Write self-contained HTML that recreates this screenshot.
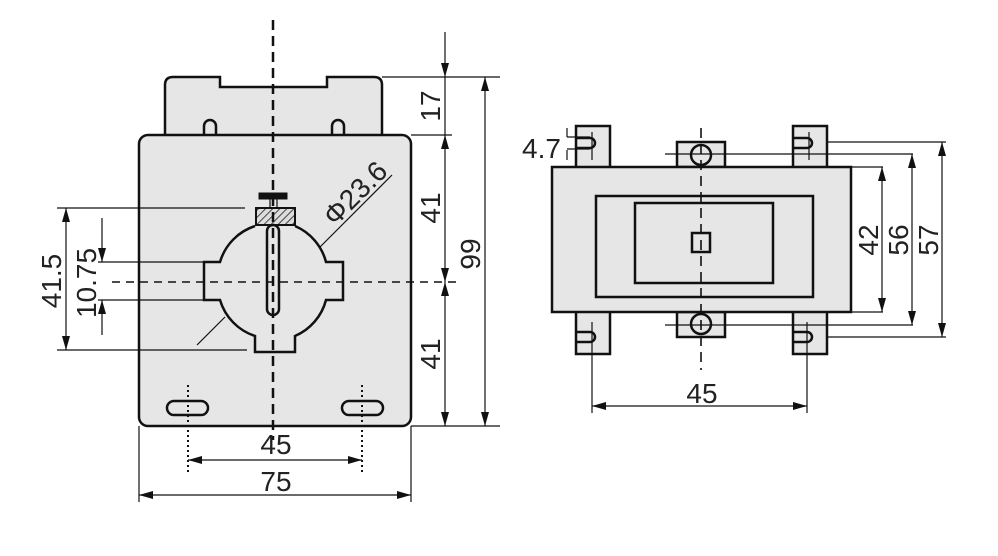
<!DOCTYPE html>
<html><head><meta charset="utf-8"><style>body{margin:0;background:#fff}svg{display:block}text{font-family:"Liberation Sans",sans-serif;fill:#222}</style></head><body>
<svg width="998" height="556" viewBox="0 0 998 556" xmlns="http://www.w3.org/2000/svg">
<defs>
<marker id="a" viewBox="0 0 14 10" refX="14" refY="5" markerWidth="14" markerHeight="10" orient="auto-start-reverse" markerUnits="userSpaceOnUse"><path d="M0,1 L14,5 L0,9 Z" fill="#111"/></marker>
<pattern id="h" width="5" height="5" patternUnits="userSpaceOnUse" patternTransform="rotate(45)"><rect width="5" height="5" fill="#ddd"/><line x1="0" y1="0" x2="0" y2="5" stroke="#111" stroke-width="1.5"/></pattern>
</defs>
<g stroke="#111" fill="none" stroke-width="1.2">
<path d="M165,135 V85 Q165,77 173,77 H220 V87 H327 V77 H374 Q382,77 382,85 V135" fill="#e6e6e6" stroke-width="2.5"/>
<path d="M204,135 V126 a6,6 0 0 1 12,0 V135 M332,135 V126 a6,6 0 0 1 12,0 V135" stroke-width="2.5" fill="#e6e6e6"/>
<rect x="139" y="135" width="272" height="291" rx="9" fill="#e6e6e6" stroke-width="2.5"/>
<path d="M255,226 A54,54 0 0 0 220,262 H204 V300 H220 A54,54 0 0 0 255,336 V352 H295 V336 A54,54 0 0 0 326,300 H343 V262 H326 A54,54 0 0 0 295,226" fill="#e6e6e6" stroke-width="2.5"/>
<rect x="256" y="208" width="39" height="17" fill="url(#h)" stroke-width="2"/>
<rect x="259" y="193" width="28" height="6" fill="#111" stroke-width="1"/>
<line x1="270" y1="199" x2="270" y2="208"/><line x1="277" y1="199" x2="277" y2="208"/>
<rect x="267" y="225" width="12" height="90" rx="6" fill="#e6e6e6" stroke-width="2.5"/>
<rect x="167" y="401" width="41" height="14" rx="7" fill="#e6e6e6" stroke-width="2.5"/>
<rect x="342" y="401" width="41" height="14" rx="7" fill="#e6e6e6" stroke-width="2.5"/>
<line x1="273" y1="20" x2="273" y2="440" stroke-dasharray="10,6" stroke-width="2.5"/>
<line x1="112" y1="282" x2="460" y2="282" stroke-dasharray="8,6" stroke-width="1.6"/>
<line x1="188" y1="385" x2="188" y2="472" stroke-dasharray="2,3" stroke-width="2"/>
<line x1="362" y1="385" x2="362" y2="472" stroke-dasharray="2,3" stroke-width="2"/>
<line x1="392" y1="175" x2="320" y2="247"/>
<line x1="225" y1="317" x2="197" y2="345"/>
<line x1="57" y1="208" x2="245" y2="208"/><line x1="57" y1="350" x2="247" y2="350"/>
<line x1="98" y1="262" x2="204" y2="262"/><line x1="98" y1="300" x2="204" y2="300"/>
<line x1="66" y1="208" x2="66" y2="350" marker-start="url(#a)" marker-end="url(#a)"/>
<line x1="102" y1="218" x2="102" y2="262" marker-end="url(#a)"/>
<line x1="102" y1="335" x2="102" y2="300" marker-end="url(#a)"/>
<line x1="188" y1="460" x2="362" y2="460" marker-start="url(#a)" marker-end="url(#a)"/>
<line x1="139" y1="426" x2="139" y2="502"/><line x1="411" y1="426" x2="411" y2="502"/>
<line x1="139" y1="495" x2="411" y2="495" marker-start="url(#a)" marker-end="url(#a)"/>
<line x1="382" y1="77" x2="500" y2="77"/><line x1="411" y1="135" x2="452" y2="135"/><line x1="411" y1="426" x2="500" y2="426"/>
<line x1="445" y1="32" x2="445" y2="77" marker-end="url(#a)"/>
<line x1="445" y1="77" x2="445" y2="135"/>
<line x1="445" y1="135" x2="445" y2="282" marker-start="url(#a)" marker-end="url(#a)"/>
<line x1="445" y1="282" x2="445" y2="426" marker-start="url(#a)" marker-end="url(#a)"/>
<line x1="485" y1="77" x2="485" y2="426" marker-start="url(#a)" marker-end="url(#a)"/>
<g stroke-width="2.5" fill="#e6e6e6">
<path d="M576,167 V126 H610 V167 M576,126 V138 H590 a5,5 0 0 1 0,10 H576 V167"/>
<path d="M793,167 V126 H827 V167 M793,126 V138 H807 a5,5 0 0 1 0,10 H793 V167"/>
<path d="M576,312 V354 H610 V312 M576,354 V342 H590 a5,5 0 0 0 0,-10 H576 V312"/>
<path d="M793,312 V354 H827 V312 M793,354 V342 H807 a5,5 0 0 0 0,-10 H793 V312"/>
<rect x="677" y="142" width="48" height="25"/><circle cx="701" cy="155" r="10"/>
<rect x="677" y="312" width="48" height="25"/><circle cx="701" cy="324" r="10"/>
<rect x="552" y="167" width="299" height="145"/>
<rect x="596" y="196" width="217" height="101"/>
<rect x="635" y="203" width="138" height="80"/>
<rect x="692" y="233" width="18" height="19" fill="none"/>
</g>
<line x1="701" y1="128" x2="701" y2="370" stroke-dasharray="10,6" stroke-width="1.6"/>
<line x1="592" y1="132" x2="592" y2="160"/><line x1="809" y1="132" x2="809" y2="160"/>
<line x1="567" y1="128" x2="567" y2="137"/><line x1="567" y1="137" x2="590" y2="137"/>
<line x1="567" y1="150" x2="567" y2="160"/><line x1="567" y1="149" x2="590" y2="149"/>
<line x1="592" y1="322" x2="592" y2="413"/><line x1="807" y1="322" x2="807" y2="413"/>
<line x1="592" y1="406" x2="807" y2="406" marker-start="url(#a)" marker-end="url(#a)"/>
<line x1="665" y1="154" x2="913" y2="154"/><line x1="665" y1="325" x2="913" y2="325"/>
<line x1="851" y1="167" x2="883" y2="167"/><line x1="851" y1="312" x2="883" y2="312"/>
<line x1="827" y1="142" x2="946" y2="142"/><line x1="827" y1="337" x2="946" y2="337"/>
<line x1="882" y1="167" x2="882" y2="312" marker-start="url(#a)" marker-end="url(#a)"/>
<line x1="912" y1="154" x2="912" y2="325" marker-start="url(#a)" marker-end="url(#a)"/>
<line x1="942" y1="142" x2="942" y2="337" marker-start="url(#a)" marker-end="url(#a)"/>
</g>
<g font-size="28">
<text transform="translate(61,281) rotate(-90)" text-anchor="middle">41.5</text>
<text transform="translate(96,283) rotate(-90)" text-anchor="middle">10.75</text>
<text transform="translate(362,200) rotate(-45)" text-anchor="middle">Φ23.6</text>
<text x="276" y="454" text-anchor="middle">45</text>
<text x="276" y="491" text-anchor="middle">75</text>
<text transform="translate(440,106) rotate(-90)" text-anchor="middle">17</text>
<text transform="translate(440,208) rotate(-90)" text-anchor="middle">41</text>
<text transform="translate(440,354) rotate(-90)" text-anchor="middle">41</text>
<text transform="translate(480,254) rotate(-90)" text-anchor="middle">99</text>
<text x="522" y="158">4.7</text>
<text x="702" y="403" text-anchor="middle">45</text>
<text transform="translate(878,240) rotate(-90)" text-anchor="middle">42</text>
<text transform="translate(908,240) rotate(-90)" text-anchor="middle">56</text>
<text transform="translate(938,240) rotate(-90)" text-anchor="middle">57</text>
</g>
</svg>
</body></html>
